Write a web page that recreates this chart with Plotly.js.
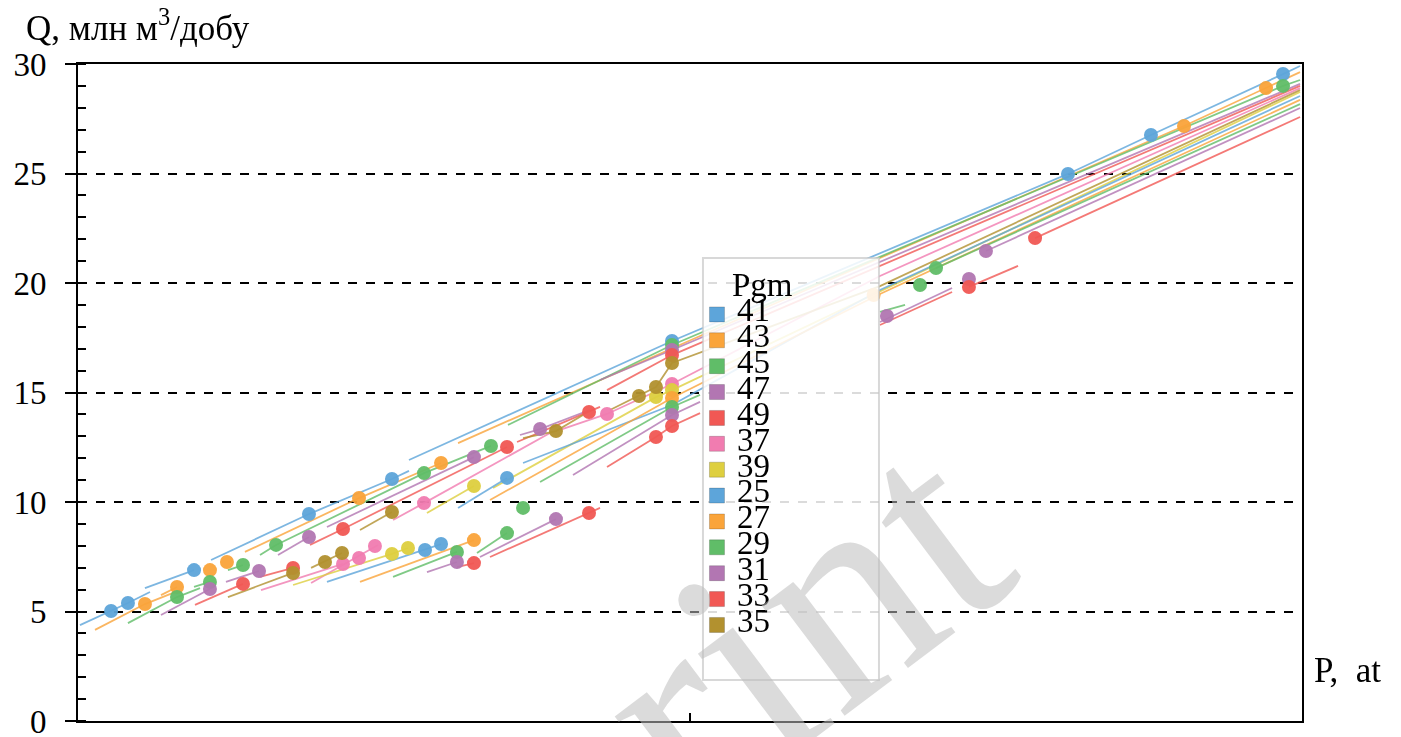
<!DOCTYPE html>
<html>
<head>
<meta charset="utf-8">
<script src="https://cdn.plot.ly/plotly-3.0.1.min.js"></script>
<style>html,body{margin:0;padding:0;background:#fff;}#chart{width:1401px;height:737px;}</style>
</head>
<body>
<div id="chart"></div>
<script>
// ---- data (P, at -> Q, mln m3/day) ----
const seriesNames = ['41','43','45','47','49','37','39','25','27','29','31','33','35'];

const P41 = [48.53, 80.88, 87.66, 98.45];
const Q41 = [17.35, 24.98, 26.76, 29.54];
const P41_fit = [27.04, 48.53, 80.88, 87.66, 98.45, 99.84];
const Q41_fit = [11.92, 17.35, 24.98, 26.76, 29.54, 29.91];

const P43 = [22.96, 29.66, 90.36, 97.06];
const Q43 = [10.18, 11.78, 27.17, 28.90];
const P43_fit = [13.64, 22.96, 29.66, null, 31.05, 50.82, 90.36, 97.06, 99.84];
const Q43_fit = [7.72, 10.18, 11.78, null, 12.69, 17.58, 27.17, 28.90, 29.63];

const P45 = [16.18, 28.27, 33.74, 48.53, 98.45];
const Q45 = [8.04, 11.32, 12.56, 17.17, 29.00];
const P45_fit = [14.87, 16.18, 28.27, 33.74, null, 35.13, 48.53, 98.45, 99.84];
const Q45_fit = [7.58, 8.04, 11.32, 12.56, null, 13.52, 17.17, 29.00, 29.27];

const P47 = [18.87, 32.35, 37.75, 48.53];
const Q47 = [8.40, 12.05, 13.33, 16.94];
const P47_fit = [16.34, 18.87, null, 20.34, 32.35, null, 36.11, 37.75, 41.8, null, 42.65, 48.53, 99.84];
const Q47_fit = [7.58, 8.40, null, 8.86, 12.05, null, 13.06, 13.33, 14.2, null, 15.57, 16.94, 29.09];

const P49 = [21.65, 35.05, 41.75, 48.53];
const Q49 = [8.77, 12.51, 14.11, 16.71];
const P49_fit = [18.95, 21.65, 35.05, null, 35.87, 41.75, 42.65, null, 43.22, 48.53, 99.84];
const Q49_fit = [8.04, 8.77, 12.51, null, 12.74, 14.11, 14.34, null, 15.11, 16.71, 29.00];

const P37 = [21.65, 22.96, 24.26, 28.27, 43.22, 48.53];
const Q37 = [7.17, 7.44, 7.99, 9.95, 14.02, 15.39];
const P37_fit = [14.95, 21.65, null, 19.04, 24.26, 24.51, null, 25.74, 28.27, 38.56, null, 39.38, 43.22, 48.53, 65.52, 99.84];
const Q37_fit = [5.98, 7.17, null, 6.30, 7.99, 8.04, null, 9.18, 9.95, 13.15, null, 13.29, 14.02, 15.39, 20.32, 28.90];

const P39 = [25.65, 26.96, 32.35, 47.22, 48.53];
const Q39 = [7.63, 7.90, 10.73, 14.79, 15.11];
const P39_fit = [17.57, 25.65, 26.96, null, 28.51, 32.35, null, 33.91, 47.22, 48.53, 99.84];
const Q39_fit = [6.21, 7.63, 7.90, null, 9.50, 10.73, null, 10.64, 14.79, 15.11, 28.72];

const P25 = [2.70, 4.08, 9.48, 18.87, 25.65, 28.35, 29.66, 35.05];
const Q25 = [5.02, 5.39, 6.89, 9.45, 11.05, 7.81, 8.08, 11.10];
const P25_fit = [0.16, 2.70, 4.08, 5.88, null, 5.47, 9.48, null, 10.87, 18.87, 25.65, 27.04, null, 20.34, 28.35, 29.66, null, 31.05, 35.05, null, 36.36, 48.53, 65.52, 99.84];
const Q25_fit = [4.38, 5.02, 5.39, 5.89, null, 6.07, 6.89, null, 7.35, 9.45, 11.05, 11.42, null, 6.35, 7.81, 8.08, null, 9.73, 11.10, null, 11.78, 14.43, 19.68, 28.54];

const P27 = [5.47, 8.09, 10.78, 12.17, 32.35, 48.53, 65.0];
const Q27 = [5.34, 6.12, 6.89, 7.26, 8.26, 14.75, 19.45];
const P27_fit = [1.39, 5.47, 8.33, null, 6.78, 8.09, null, 23.04, 32.35, null, 33.66, 48.53, 65.52, 99.84];
const Q27_fit = [4.16, 5.34, 5.98, null, 5.75, 6.12, null, 6.35, 8.26, null, 10.09, 14.75, 19.50, 28.36];

const P29 = [8.09, 10.78, 13.48, 30.96, 35.05, 36.36, 48.53, 68.79, 70.10];
const Q29 = [5.66, 6.35, 7.12, 7.72, 8.58, 9.73, 14.34, 19.91, 20.68];
const P29_fit = [4.08, 8.09, 9.97, null, 9.48, 10.78, null, 12.25, 13.48, null, 25.74, 30.96, null, 32.60, 35.05, null, 37.75, 48.53, 50.82, null, 65.52, 67.57, null, 70.10, 99.84];
const Q29_fit = [4.47, 5.66, 6.07, null, 6.12, 6.35, null, 6.89, 7.12, null, 6.58, 7.72, null, 7.67, 8.58, null, 10.91, 14.34, 14.89, null, 18.68, 19.00, null, 20.68, 28.17];

const P31 = [10.78, 14.79, 30.96, 39.05, 48.53, 66.09, 72.79, 74.18];
const Q31 = [6.03, 6.85, 7.26, 9.22, 13.97, 18.49, 20.18, 21.46];
const P31_fit = [6.78, 10.78, null, 12.09, 14.79, null, 28.51, 30.96, null, 32.84, 39.05, null, 40.44, 48.53, 50.82, null, 65.52, 71.41, null, 74.18, 99.84];
const Q31_fit = [4.84, 6.03, null, 6.35, 6.85, null, 6.80, 7.26, null, 7.49, 9.22, null, 11.23, 13.97, 14.57, null, 18.22, 19.77, null, 21.46, 27.99];

const P33 = [13.48, 17.57, 32.35, 41.75, 47.22, 48.53, 72.79, 78.19];
const Q33 = [6.26, 6.99, 7.21, 9.50, 12.97, 13.47, 19.82, 22.05];
const P33_fit = [9.56, 13.48, null, 14.87, 17.57, null, 30.96, 32.35, null, 33.66, 41.75, 42.65, null, 43.22, 47.22, 48.53, 50.82, null, 65.52, 71.41, null, 72.79, 76.80, null, 78.19, 99.84];
const Q33_fit = [5.30, 6.26, null, 6.58, 6.99, null, 7.03, 7.21, null, 7.49, 9.50, 9.73, null, 11.60, 12.97, 13.47, 14.06, null, 18.08, 19.59, null, 19.82, 20.78, null, 22.05, 27.58];

const P35 = [17.57, 20.18, 21.57, 25.65, 39.05, 45.83, 47.22, 48.53];
const Q35 = [6.76, 7.26, 7.67, 9.54, 13.24, 14.84, 15.25, 16.35];
const P35_fit = [12.25, 17.57, null, 19.04, 21.57, null, 23.04, 25.65, null, 36.36, 39.05, 41.26, null, 43.46, 45.83, 47.22, 48.53, 65.52, 99.84];
const Q35_fit = [5.66, 6.76, null, 6.99, 7.67, null, 8.72, 9.54, null, 12.92, 13.24, 13.97, null, 14.20, 14.84, 15.25, 16.35, 19.86, 28.81];

const yTicks = [0, 5, 10, 15, 20, 25, 30];
const xTicks = [0, 50, 100];

// ---- styling ----
const palette = {
  '41':'#5DA5DA','43':'#FAA43A','45':'#60BD68','47':'#B276B2','49':'#F15854',
  '37':'#F17CB0','39':'#DECF3F','25':'#5DA5DA','27':'#FAA43A','29':'#60BD68',
  '31':'#B276B2','33':'#F15854','35':'#B2912F'
};
const table = {
  '41':[P41,Q41,P41_fit,Q41_fit], '43':[P43,Q43,P43_fit,Q43_fit], '45':[P45,Q45,P45_fit,Q45_fit],
  '47':[P47,Q47,P47_fit,Q47_fit], '49':[P49,Q49,P49_fit,Q49_fit], '37':[P37,Q37,P37_fit,Q37_fit],
  '39':[P39,Q39,P39_fit,Q39_fit], '25':[P25,Q25,P25_fit,Q25_fit], '27':[P27,Q27,P27_fit,Q27_fit],
  '29':[P29,Q29,P29_fit,Q29_fit], '31':[P31,Q31,P31_fit,Q31_fit], '33':[P33,Q33,P33_fit,Q33_fit],
  '35':[P35,Q35,P35_fit,Q35_fit]
};
const FONT = 'Liberation Serif, Times New Roman, serif';

const traces = [];
seriesNames.forEach(n => {
  const [px, qy, fx, fy] = table[n];
  traces.push({x: fx, y: fy, mode: 'lines', type: 'scatter', name: n, legendgroup: n,
    showlegend: false, hoverinfo: 'skip', connectgaps: false,
    line: {color: palette[n], width: 1.8}, opacity: 0.8});
});
seriesNames.forEach(n => {
  const [px, qy] = table[n];
  traces.push({x: px, y: qy, mode: 'markers', type: 'scatter', name: n, legendgroup: n,
    showlegend: false, marker: {color: palette[n], size: 14, line: {width: 0}}, opacity: 0.95});
});
seriesNames.forEach(n => {
  traces.push({x: [null], y: [null], mode: 'markers', type: 'scatter', legendgroup: n,
    name: '<span style="font-size:33px">' + n + '</span>',
    marker: {color: palette[n], symbol: 'square', size: 15, line: {width: 1, color: 'rgba(0,0,0,0.18)'}}});
});

const layout = {
  width: 1401, height: 737,
  margin: {l: 78, r: 99, t: 64, b: 16},
  paper_bgcolor: '#ffffff', plot_bgcolor: '#ffffff',
  font: {family: FONT, color: '#000'},
  showlegend: true,
  legend: {
    x: 0.5057, y: 0.681, xanchor: 'left', yanchor: 'top',
    bgcolor: 'rgba(0,0,0,0)', borderwidth: 0,
    font: {family: FONT, size: 17.6, color: '#000'},
    title: {text: '<span style="font-size:33px">\u00a0\u00a0\u00a0\u00a0Pgm</span>', font: {family: FONT, size: 17.6, color: '#000'}},
    itemsizing: 'trace', tracegroupgap: 0
  },
  xaxis: {
    range: [0, 100], tickvals: xTicks, showticklabels: false,
    ticks: 'inside', ticklen: 8, tickwidth: 2, tickcolor: '#000',
    showgrid: false, zeroline: false,
    showline: true, linecolor: '#000', linewidth: 2, mirror: true, fixedrange: true
  },
  yaxis: {
    range: [0, 30], tickvals: yTicks,
    ticks: 'outside', ticklen: 11, tickwidth: 2, tickcolor: '#000',
    ticklabelstandoff: 12, ticklabeloverflow: 'allow',
    tickfont: {family: FONT, size: 33, color: '#000'},
    minor: {dtick: 1, tick0: 0, ticks: 'inside', ticklen: 8, tickwidth: 2, tickcolor: '#000', showgrid: false},
    showgrid: true, gridcolor: '#000', gridwidth: 2, griddash: 'dash',
    zeroline: false,
    showline: true, linecolor: '#000', linewidth: 2, mirror: true, fixedrange: true
  },
  shapes: [{
    type: 'rect', xref: 'paper', yref: 'paper', layer: 'above',
    x0: 0.5106, x1: 0.6544, y0: 0.0624, y1: 0.7047,
    fillcolor: 'rgba(255,255,255,0.86)', line: {color: 'rgba(200,200,200,0.7)', width: 2}
  }],
  annotations: [
    {text: 'Preprint', xref: 'paper', yref: 'paper', x: 0.41, y: -0.105,
     xanchor: 'center', yanchor: 'middle', textangle: -37, showarrow: false,
     font: {family: FONT, size: 300, color: 'rgba(190,190,190,0.55)'}},
    {text: 'Q, млн м<sup>3</sup>/добу', xref: 'paper', yref: 'paper', x: -0.0445, y: 1.058,
     xanchor: 'left', yanchor: 'middle', showarrow: false,
     font: {family: FONT, size: 35, color: '#000'}},
    {text: 'P,  at', xref: 'paper', yref: 'paper', x: 1.008, y: 0.0776,
     xanchor: 'left', yanchor: 'middle', showarrow: false,
     font: {family: FONT, size: 35, color: '#000'}}
  ]
};

Plotly.newPlot('chart', traces, layout, {staticPlot: true, displayModeBar: false});
</script>
</body>
</html>
